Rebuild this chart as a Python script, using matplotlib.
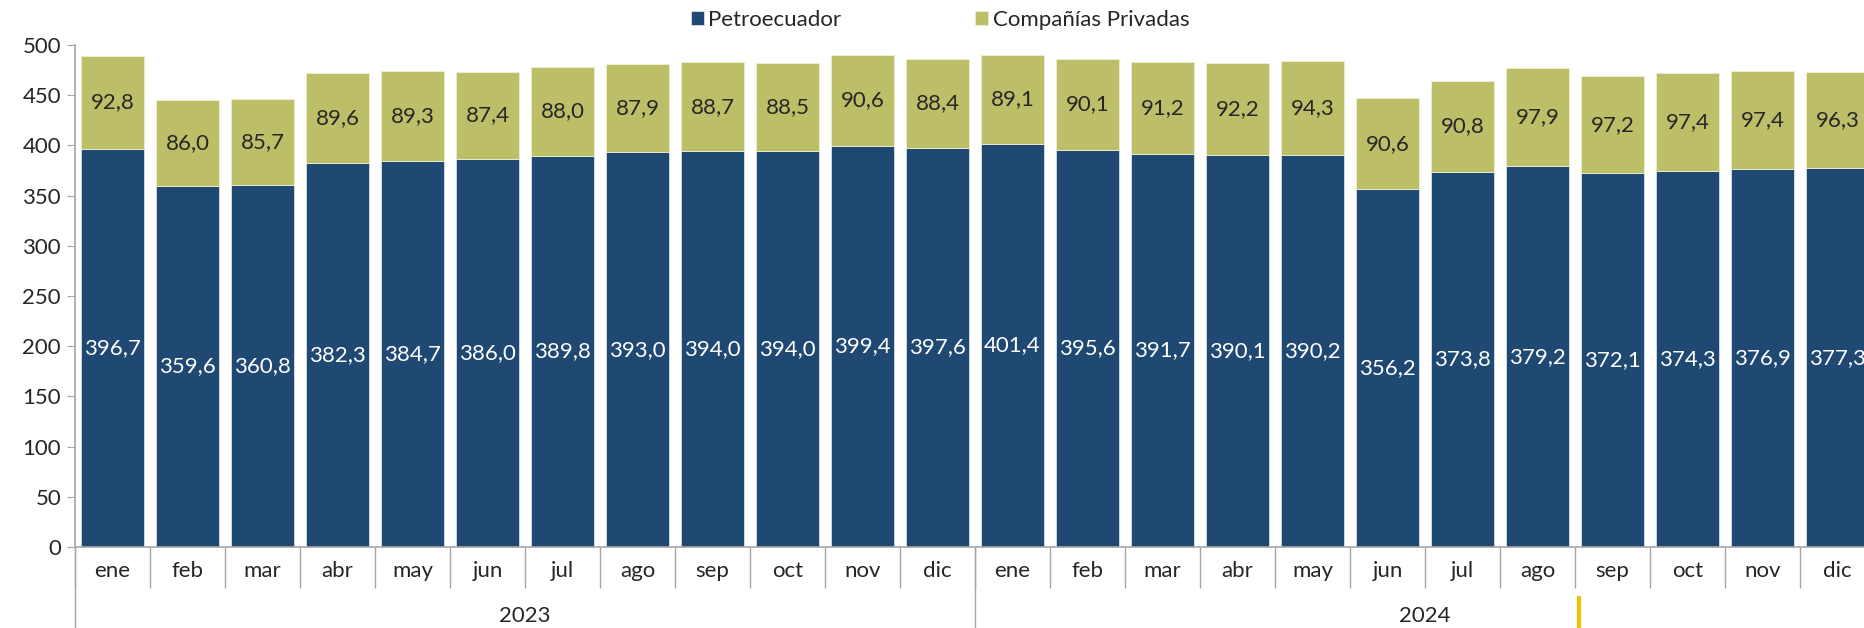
""" Producción de petróleo: Petroecuador vs Compañías Privadas, 2023-2024 """

import numpy as np
import matplotlib.pyplot as plt
from matplotlib.lines import Line2D

plt.rcParams['font.family'] = ['Lato', 'DejaVu Sans']

months = ['ene', 'feb', 'mar', 'abr', 'may', 'jun', 'jul', 'ago', 'sep', 'oct', 'nov', 'dic']
years = ['2023', '2024']
petroecuador = [396.7, 359.6, 360.8, 382.3, 384.7, 386.0, 389.8, 393.0, 394.0, 394.0, 399.4, 397.6,
                401.4, 395.6, 391.7, 390.1, 390.2, 356.2, 373.8, 379.2, 372.1, 374.3, 376.9, 377.3]
privadas = [92.8, 86.0, 85.7, 89.6, 89.3, 87.4, 88.0, 87.9, 88.7, 88.5, 90.6, 88.4,
            89.1, 90.1, 91.2, 92.2, 94.3, 90.6, 90.8, 97.9, 97.2, 97.4, 97.4, 96.3]

navy = '#1F4872'
olive = '#BCBF67'
grey = '#A6A6A6'
txt = '#262626'

fig = plt.figure(figsize=(18.64, 6.28), dpi=100)
ax = fig.add_axes([75 / 1864, 81 / 628, 1800 / 1864, 502 / 628])

x = np.arange(len(petroecuador))
b1 = ax.bar(x, petroecuador, width=0.84, color=navy, edgecolor='#D9E1EA', linewidth=0.6,
            label='Petroecuador')
b2 = ax.bar(x, privadas, width=0.84, bottom=petroecuador, color=olive, edgecolor='#EDEFCF',
            linewidth=0.6, label='Compañías Privadas')

fmt = lambda v: f'{v:.1f}'.replace('.', ',')
ax.bar_label(b1, labels=[fmt(v) for v in petroecuador], label_type='center', color='white',
             fontsize=16)
ax.bar_label(b2, labels=[fmt(v) for v in privadas], label_type='center', color=txt,
             fontsize=16)

ax.set_xlim(-0.5, len(x) - 0.5)
ax.set_ylim(0, 500)
ax.set_yticks(np.arange(0, 501, 50))
ax.tick_params(axis='y', length=6, color=grey, labelsize=16, labelcolor=txt, pad=4)

# month labels + separators
ax.set_xticks(x)
ax.set_xticklabels(months * len(years))
ax.tick_params(axis='x', which='major', length=0, labelsize=16, labelcolor=txt, pad=10)
ax.set_xticks(np.arange(-0.5, len(x), 1), minor=True)
ax.tick_params(axis='x', which='minor', length=29.5, color=grey, width=1)

for s in ['top', 'right']:
    ax.spines[s].set_visible(False)
for s in ['left', 'bottom']:
    ax.spines[s].set_color(grey)
    ax.spines[s].set_linewidth(1.2)

# year separators and labels
trans = ax.get_xaxis_transform()
for i, yr in enumerate(years):
    ax.plot([i * 12 - 0.5] * 2, [0, -81 / 502], transform=trans, color=grey, lw=1, clip_on=False)
    ax.text(i * 12 + 5.5, -69 / 502, yr, transform=trans, ha='center', va='center',
            fontsize=16, color=txt)

fig.legend(handles=[b1, b2], loc='center', bbox_to_anchor=(940 / 1864, 1 - 20 / 628), ncol=2,
           frameon=False, fontsize=16, handlelength=0.6, handleheight=0.6, handletextpad=0.2,
           columnspacing=6, labelcolor=txt)

# small gold mark at the bottom right
fig.add_artist(Line2D([1579 / 1864] * 2, [0, 30 / 628], color='#F2C200', lw=3))

fig.savefig('out.png', dpi=100)
